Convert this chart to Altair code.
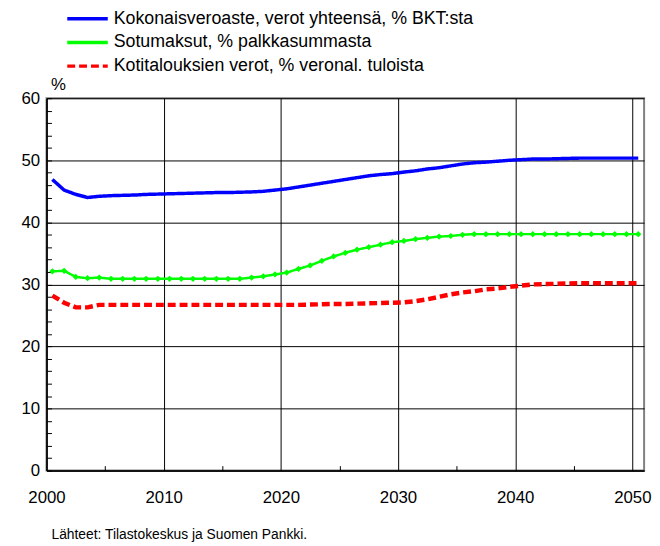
import altair as alt
import pandas as pd

years = list(range(2000, 2051))

names = [
    "Kokonaisveroaste, verot yhteensä, % BKT:sta",
    "Sotumaksut, % palkkasummasta",
    "Kotitalouksien verot, % veronal. tuloista",
]

kokonais = [46.9, 45.2, 44.5, 44.0, 44.2, 44.3, 44.35, 44.4, 44.5, 44.55,
            44.6, 44.65, 44.7, 44.75, 44.8, 44.8, 44.85, 44.9, 45.0, 45.2,
            45.4, 45.7, 46.0, 46.3, 46.6, 46.9, 47.2, 47.5, 47.7, 47.85,
            48.1, 48.3, 48.6, 48.8, 49.1, 49.4, 49.6, 49.7, 49.85, 50.0,
            50.1, 50.2, 50.2, 50.25, 50.3, 50.35, 50.35, 50.35, 50.35, 50.35,
            50.35]

sotu = [32.1, 32.2, 31.2, 31.0, 31.1, 30.9, 30.9, 30.9, 30.9, 30.9,
        30.9, 30.9, 30.9, 30.9, 30.9, 30.9, 30.9, 31.1, 31.3, 31.6,
        31.9, 32.5, 33.05, 33.8, 34.5, 35.1, 35.6, 36.0, 36.4, 36.8,
        37.0, 37.3, 37.5, 37.7, 37.8, 38.0, 38.1, 38.1, 38.1, 38.1,
        38.1, 38.1, 38.1, 38.1, 38.1, 38.1, 38.1, 38.1, 38.1, 38.1,
        38.1]

koti = [28.2, 27.05, 26.3, 26.3, 26.7, 26.7, 26.7, 26.7, 26.7, 26.7,
        26.7, 26.7, 26.7, 26.7, 26.7, 26.7, 26.7, 26.7, 26.7, 26.7,
        26.7, 26.7, 26.75, 26.8, 26.85, 26.85, 26.9, 26.95, 27.0, 27.05,
        27.1, 27.3, 27.6, 28.0, 28.4, 28.7, 28.9, 29.2, 29.35, 29.6,
        29.8, 30.0, 30.05, 30.1, 30.15, 30.2, 30.2, 30.2, 30.2, 30.2,
        30.2]

x_major = [2000, 2010, 2020, 2030, 2040, 2050]
x_minor = [2005, 2015, 2025, 2035, 2045]
y_major = [0, 10, 20, 30, 40, 50, 60]
y_minor = list(range(0, 61, 2))

colors = ["#0000ff", "#00ff00", "#ff0000"]
dashes = [[1, 0], [1, 0], [8, 4]]
widths = [3.5, 2.5, 4.5]

footer = "Lähteet: Tilastokeskus ja Suomen Pankki."

rows = []
for n, vals in zip(names, [kokonais, sotu, koti]):
    for yr, v in zip(years, vals):
        rows.append({"year": yr, "value": v, "series": n})
df = pd.DataFrame(rows)

xscale = alt.Scale(domain=[2000, 2051], nice=False, zero=False)
yscale = alt.Scale(domain=[0, 60], nice=False, zero=True)

leg = alt.Legend(
    title=None, orient="none", legendX=19, legendY=-91,
    labelFontSize=18, labelColor="black", labelFont="Liberation Sans",
    symbolType="stroke", symbolSize=1681, symbolStrokeWidth=3.5,
    clipHeight=21, rowPadding=3, labelOffset=4, padding=0, labelLimit=600,
)

main_x = alt.Axis(values=x_major, format="d", grid=True, gridColor="black",
                  gridOpacity=1, gridWidth=1, ticks=False, labelPadding=19,
                  labelFontSize=17, labelColor="black", domainColor="black",
                  domainWidth=1.5, title=None, labelFlush=False)
main_y = alt.Axis(values=y_major, grid=True, gridColor="black", gridOpacity=1,
                  gridWidth=1, ticks=False, labelPadding=7, labelFontSize=17,
                  labelColor="black", domainColor="black", domainWidth=1.5,
                  title="%", titleAngle=0, titleX=4, titleY=-9,
                  titleAlign="left", titleBaseline="alphabetic",
                  titleFontSize=17, titleFontWeight="normal", titleColor="black")
minor_x = alt.Axis(values=x_minor, orient="bottom", labels=False, domain=False,
                   grid=False, ticks=True, tickSize=5, offset=-5,
                   tickColor="black", tickWidth=1, title=None)
minor_y = alt.Axis(values=y_minor, orient="left", labels=False, domain=False,
                   grid=False, ticks=True, tickSize=5, offset=-5,
                   tickColor="black", tickWidth=1, title=None)

base = alt.Chart(df).transform_calculate(xpos="datum.year + 0.5")

layers = []
for i, n in enumerate(names):
    layers.append(
        base.transform_filter(alt.datum.series == n)
        .mark_line(strokeWidth=widths[i])
        .encode(
            x=alt.X("xpos:Q", scale=xscale, axis=main_x if i == 0 else None),
            y=alt.Y("value:Q", scale=yscale, axis=main_y if i == 0 else None),
            color=alt.Color("series:N", scale=alt.Scale(domain=names, range=colors), legend=leg),
            strokeDash=alt.StrokeDash("series:N", scale=alt.Scale(domain=names, range=dashes), legend=leg),
            order=alt.Order("year:Q"),
        )
    )

points = base.transform_filter(alt.datum.series == names[1]).mark_point(
    filled=True, shape="diamond", size=40, color="#00ff00", opacity=1
).encode(
    x=alt.X("xpos:Q", scale=xscale, axis=minor_x),
    y=alt.Y("value:Q", scale=yscale, axis=minor_y),
)

chart = alt.layer(*layers, points).resolve_axis(x="independent", y="independent").properties(
    width=605, height=377,
    autosize=alt.AutoSizeParams(type="none"),
    padding={"left": 39, "top": 88, "right": 8, "bottom": 73},
    title=alt.TitleParams(footer, orient="bottom", frame="group",
                          anchor="start", fontSize=14, fontWeight="normal",
                          color="black", dx=5, offset=23, font="Liberation Sans"),
).configure(font="Liberation Sans").configure_legend(
    labelFontSize=18, labelLimit=600
).configure_view(stroke="#808080", strokeWidth=2)

chart.save("out.html", embed_options={"renderer": "svg", "actions": False})
